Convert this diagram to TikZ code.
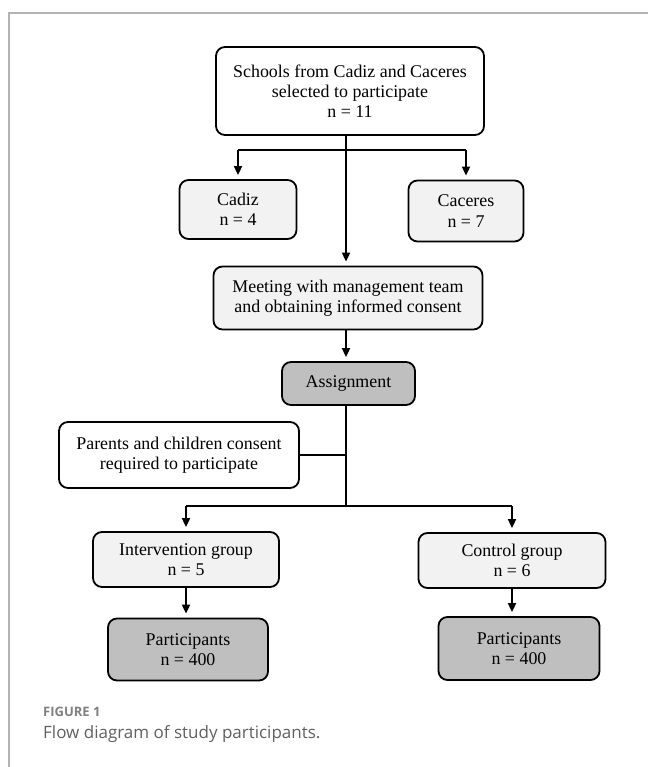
\documentclass[tikz,border=0pt]{standalone}
\usepackage{fontspec}
\setmainfont{Liberation Serif}
\newfontfamily\capfont{Open Sans}
\usetikzlibrary{arrows.meta}
\definecolor{boxlight}{HTML}{F2F2F2}
\definecolor{boxdark}{HTML}{BFBFBF}
\definecolor{framegray}{HTML}{B3B3B3}
\definecolor{figgray}{HTML}{808080}
\definecolor{capgray}{HTML}{606060}
\begin{document}
\begin{tikzpicture}[x=1pt,y=-1pt,
 box/.style={draw=black, line width=1.8pt, rounded corners=9pt, align=center, inner sep=0pt, font=\fontsize{17.9}{20.3}\selectfont},
 wbox/.style={box, fill=white},
 lbox/.style={box, fill=boxlight},
 dbox/.style={box, fill=boxdark},
 conn/.style={line width=1.8pt},
 arr/.style={conn, -{Triangle[length=9pt,width=8pt]}, shorten >=4pt},
 captxt/.style={anchor=west, inner sep=0pt, align=left},
]
\useasboundingbox (0,0) rectangle (648,767);
\fill[white] (0,0) rectangle (648,767);
\draw[framegray, line width=1.5pt] (648,13) -- (9,13) -- (9,767);

\node[wbox, minimum width=268pt, minimum height=88pt] (top) at (350,91) {Schools from Cadiz and Caceres\\selected to participate\\n = 11};
\node[lbox, minimum width=117pt, minimum height=59pt] (cadiz) at (238,209.5) {Cadiz\\n = 4};
\node[lbox, minimum width=115pt, minimum height=61pt] (caceres) at (466,211) {Caceres\\n = 7};
\node[lbox, minimum width=269pt, minimum height=63pt] (meet) at (348,298) {Meeting with management team\\and obtaining informed consent};
\node[dbox, minimum width=133pt, minimum height=43pt] (asg) at (348.5,383.5) {Assignment};
\node[wbox, minimum width=240pt, minimum height=66pt] (par) at (179,455) {Parents and children consent\\required to participate};
\node[lbox, minimum width=186pt, minimum height=55pt] (inter) at (186,559.5) {Intervention group\\n = 5};
\node[lbox, minimum width=187pt, minimum height=55pt] (ctrl) at (512,560.5) {Control group\\n = 6};
\node[dbox, minimum width=160pt, minimum height=62pt] (pl) at (188,649.5) {Participants\\n = 400};
\node[dbox, minimum width=161pt, minimum height=63pt] (pr) at (519,648.5) {Participants\\n = 400};

\coordinate (sp) at (346,0);
\coordinate (b1) at (346,150);
\coordinate (b2) at (346,506);

\draw[conn] (cadiz.north |- b1) -- (caceres.north |- b1);
\draw[arr] (cadiz.north |- b1) -- (cadiz.north);
\draw[arr] (caceres.north |- b1) -- (caceres.north);
\draw[arr] (top.south -| sp) -- (meet.north -| sp);
\draw[arr] (meet.south -| sp) -- (asg.north -| sp);
\draw[conn] (asg.south -| sp) -- (b2);
\draw[conn] (par.east) -- (par.east -| sp);
\draw[conn] (inter.north |- b2) -- (ctrl.north |- b2);
\draw[arr] (inter.north |- b2) -- (inter.north);
\draw[arr] (ctrl.north |- b2) -- (ctrl.north);
\draw[arr] (inter.south) -- (inter.south |- pl.north);
\draw[arr] (ctrl.south) -- (ctrl.south |- pr.north);

\node[captxt, text=figgray, font=\capfont\bfseries\fontsize{13}{16}\selectfont] (fig) at (43,712) {FIGURE 1};
\node[captxt, text=capgray, font=\capfont\fontsize{17}{20}\selectfont] (cap) at (43,734) {Flow diagram of study participants.};
\end{tikzpicture}
\end{document}
